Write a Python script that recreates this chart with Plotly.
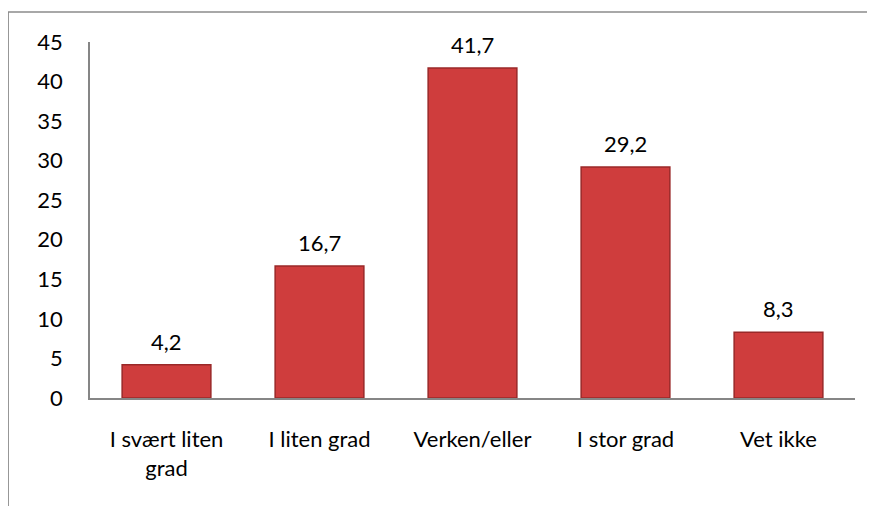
import plotly.graph_objects as go

# kategorier og verdier (prosent)
kategorier = ["I svært liten<br>grad", "I liten grad", "Verken/eller", "I stor grad", "Vet ikke"]
verdier = [4.2, 16.7, 41.7, 29.2, 8.3]
y_ticks = [0, 5, 10, 15, 20, 25, 30, 35, 40, 45]

font = "Lato, Open Sans, sans-serif"

fig = go.Figure()
fig.add_trace(go.Bar(
    x=kategorier, y=verdier,
    marker=dict(color="#CF3D3D", line=dict(color="#9A2828", width=1.5)),
    hoverinfo="skip",
))

# dataetiketter over søylene
for k, v in zip(kategorier, verdier):
    fig.add_annotation(x=k, y=v, text=f"{v:.1f}".replace(".", ","),
                       showarrow=False, yanchor="bottom", yshift=8,
                       font=dict(family=font, size=22, color="black"))

# ramme rundt diagrammet
fig.add_shape(type="rect", xref="paper", yref="paper",
              x0=-0.107, x1=1.2, y0=-0.5, y1=1.084,
              line=dict(color="#8C8C8C", width=1.5), layer="below")

fig.update_layout(
    width=875, height=506,
    margin=dict(l=82, r=28, t=34, b=116),
    plot_bgcolor="white", paper_bgcolor="white",
    showlegend=False,
    bargap=0.42,
    separators=", ",
    font=dict(family=font, size=22, color="black"),
)
fig.update_yaxes(range=[0, 45], tickvals=y_ticks, showgrid=False, zeroline=False,
                 showline=True, linecolor="#868686", linewidth=1.5,
                 ticks="", ticklabelstandoff=21)
fig.update_xaxes(showline=True, linecolor="#868686", linewidth=1.5,
                 ticks="", ticklabelstandoff=21)

fig.write_html("out.html")
